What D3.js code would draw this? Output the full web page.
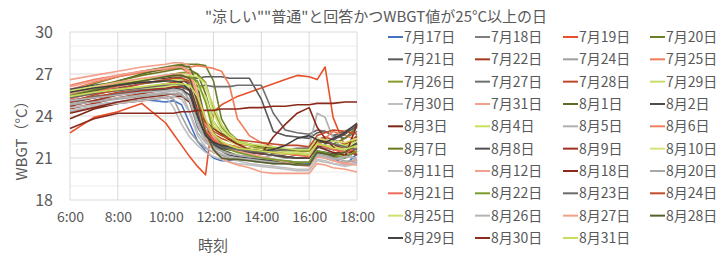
<!DOCTYPE html>
<html>
<head>
<meta charset="utf-8">
<script src="https://cdn.jsdelivr.net/npm/d3@7"></script>
<style>
  body { margin: 0; background: #fff; }
  text { font-family: "Noto Sans CJK JP", "Noto Sans", sans-serif; fill: #595959; }
</style>
</head>
<body>
<div id="container"></div>
<script>
// time of day for every reading
var times = ["6:00", "7:00", "8:00", "9:00", "10:00", "10:20", "10:40", "11:00", "11:20", "11:40",
  "12:00", "12:20", "12:40", "13:00", "13:30", "14:00", "14:30", "15:00", "15:30", "16:00",
  "16:20", "16:40", "17:00", "17:30", "18:00"];

var dates = ["7月17日", "7月18日", "7月19日", "7月20日", "7月21日", "7月22日", "7月24日", "7月25日",
  "7月26日", "7月27日", "7月28日", "7月29日", "7月30日", "7月31日", "8月1日", "8月2日",
  "8月3日", "8月4日", "8月5日", "8月6日", "8月7日", "8月8日", "8月9日", "8月10日",
  "8月11日", "8月12日", "8月18日", "8月20日", "8月21日", "8月22日", "8月23日", "8月24日",
  "8月25日", "8月26日", "8月27日", "8月28日", "8月29日", "8月30日", "8月31日"];

// WBGT readings, one row per day (same order as dates)
var wbgt = [
  [24.6, 24.8, 25.0, 25.2, 25.0, 25.1, 24.8, 23.5, 22.2, 21.5, 21.0, 20.8, 20.8, 20.9, 20.9, 20.8, 20.8, 20.7, 20.6, 20.6, 21.3, 21.2, 21.0, 20.5, 21.3],
  [25.0, 25.3, 25.6, 25.9, 26.1, 26.2, 26.2, 25.0, 23.2, 22.3, 21.9, 21.7, 21.6, 21.5, 21.4, 21.3, 21.2, 21.0, 21.0, 21.0, 21.8, 21.7, 21.6, 21.5, 21.9],
  [22.8, 23.9, 24.3, 24.9, 23.5, 22.7, 21.9, 21.1, 20.4, 19.8, 24.3, 24.8, 25.1, 25.4, 25.7, 26.0, 26.3, 26.6, 26.9, 26.8, 26.6, 27.5, 23.9, 21.8, 21.3],
  [25.8, 26.3, 26.8, 27.2, 27.5, 27.6, 27.7, 27.7, 27.7, 27.6, 26.5, 23.8, 22.8, 22.3, 21.9, 21.6, 21.3, 21.1, 21.0, 21.0, 21.9, 21.8, 21.6, 21.8, 22.6],
  [25.6, 25.8, 26.0, 26.3, 26.5, 26.7, 26.8, 26.8, 26.7, 26.8, 26.8, 26.8, 26.7, 26.7, 26.7, 25.2, 22.9, 22.6, 22.5, 22.4, 22.8, 22.9, 22.6, 22.9, 23.4],
  [24.5, 24.9, 25.3, 25.6, 25.9, 26.0, 26.1, 25.8, 24.5, 23.0, 22.4, 22.1, 21.9, 21.8, 21.7, 21.6, 21.5, 21.4, 21.3, 21.3, 22.0, 22.2, 22.0, 21.8, 22.3],
  [24.3, 24.6, 24.9, 25.2, 25.4, 25.2, 24.0, 22.9, 22.2, 21.7, 21.4, 21.2, 21.0, 20.9, 20.8, 20.7, 20.6, 20.6, 20.5, 20.5, 21.1, 21.0, 20.8, 20.7, 20.9],
  [25.9, 26.4, 26.8, 27.1, 27.3, 27.4, 27.5, 27.5, 27.6, 27.5, 27.4, 27.2, 26.2, 23.8, 22.6, 22.1, 21.8, 21.5, 21.4, 21.3, 22.0, 21.8, 21.7, 21.5, 21.8],
  [25.4, 25.8, 26.2, 26.6, 26.9, 27.0, 27.1, 27.1, 27.0, 26.4, 24.4, 23.2, 22.6, 22.2, 21.9, 21.7, 21.5, 21.4, 21.3, 21.2, 22.0, 21.9, 21.8, 21.9, 22.4],
  [25.1, 25.4, 25.6, 25.8, 26.0, 26.1, 26.1, 26.1, 26.1, 26.2, 26.1, 26.1, 26.1, 26.2, 26.2, 26.2, 24.2, 23.0, 22.8, 22.7, 23.0, 22.9, 22.6, 22.4, 22.9],
  [24.9, 25.3, 25.7, 26.0, 26.3, 26.4, 26.5, 26.4, 25.2, 23.3, 22.7, 22.4, 22.2, 22.0, 21.9, 21.8, 21.7, 21.6, 21.5, 21.5, 22.3, 22.5, 22.3, 22.0, 22.5],
  [25.5, 25.7, 25.9, 26.0, 26.1, 26.1, 26.2, 26.2, 26.1, 26.0, 24.8, 23.4, 22.7, 22.3, 22.0, 21.8, 21.7, 21.6, 21.5, 21.5, 22.3, 22.1, 22.0, 21.8, 22.0],
  [24.6, 24.8, 25.0, 25.2, 25.4, 24.6, 23.4, 22.5, 21.9, 21.4, 21.1, 20.9, 20.7, 20.6, 20.5, 20.4, 20.3, 20.2, 20.1, 20.1, 20.8, 20.7, 20.6, 20.5, 20.7],
  [26.6, 26.9, 27.2, 27.5, 27.7, 27.8, 27.8, 27.6, 26.0, 23.8, 22.6, 22.1, 21.8, 21.5, 21.3, 21.1, 20.9, 20.7, 20.6, 20.5, 21.2, 21.0, 20.8, 20.6, 20.9],
  [25.3, 25.9, 26.5, 27.0, 27.4, 27.5, 27.6, 27.5, 26.2, 23.5, 22.0, 21.6, 21.4, 21.2, 21.0, 20.9, 20.8, 20.7, 20.6, 20.5, 21.4, 21.3, 21.1, 21.0, 21.5],
  [25.9, 26.2, 26.4, 26.6, 26.7, 26.8, 26.7, 26.2, 24.5, 22.8, 22.0, 21.5, 21.2, 21.1, 21.0, 20.9, 20.8, 20.8, 20.7, 20.7, 21.5, 21.4, 21.3, 21.5, 22.1],
  [23.8, 24.5, 24.9, 25.1, 25.3, 25.4, 25.4, 25.0, 23.8, 22.6, 22.1, 21.8, 21.6, 21.5, 21.4, 21.3, 21.2, 21.1, 21.0, 21.0, 21.8, 21.6, 21.4, 21.2, 21.7],
  [25.7, 26.0, 26.2, 26.4, 26.5, 26.6, 26.6, 26.6, 26.3, 25.0, 23.3, 22.6, 22.3, 22.1, 21.9, 21.8, 21.7, 21.6, 21.5, 21.5, 22.3, 22.2, 22.0, 21.9, 22.2],
  [24.9, 25.1, 25.3, 25.5, 25.7, 25.8, 25.6, 24.3, 22.8, 22.1, 21.7, 21.5, 21.3, 21.2, 21.1, 21.0, 21.2, 21.4, 21.6, 21.8, 24.2, 23.9, 22.4, 21.5, 20.8],
  [26.2, 26.6, 26.9, 27.2, 27.4, 27.5, 27.4, 27.0, 25.2, 23.4, 22.5, 22.1, 21.9, 21.8, 21.6, 21.5, 21.4, 21.3, 21.2, 21.2, 22.0, 22.4, 22.9, 22.6, 22.3],
  [25.6, 26.1, 26.5, 26.9, 27.2, 27.3, 27.4, 27.3, 27.0, 25.6, 23.6, 22.8, 22.4, 22.2, 22.0, 21.8, 21.7, 21.6, 21.5, 21.5, 22.2, 22.1, 22.0, 22.4, 23.2],
  [25.0, 25.3, 25.5, 25.7, 25.9, 26.0, 25.9, 25.5, 24.0, 22.6, 22.0, 21.7, 21.6, 21.5, 21.4, 21.3, 21.2, 21.1, 21.0, 21.0, 21.7, 22.0, 22.3, 22.7, 23.3],
  [24.7, 25.1, 25.5, 25.8, 26.0, 26.1, 26.1, 25.9, 24.4, 22.9, 22.2, 21.9, 21.7, 21.6, 21.5, 21.5, 21.4, 21.3, 21.2, 21.2, 22.3, 22.2, 22.0, 21.6, 21.2],
  [25.3, 25.6, 25.8, 26.0, 26.1, 26.2, 26.2, 26.1, 26.0, 25.4, 23.6, 22.7, 22.2, 21.9, 21.7, 21.6, 21.5, 21.4, 21.4, 21.3, 22.0, 21.9, 21.8, 21.6, 21.8],
  [24.4, 24.7, 24.9, 25.1, 25.3, 25.4, 25.2, 24.2, 22.6, 21.8, 21.4, 21.1, 20.9, 20.8, 20.6, 20.5, 20.4, 20.3, 20.2, 20.2, 20.9, 20.8, 20.6, 20.4, 20.6],
  [26.1, 26.5, 26.9, 27.2, 27.4, 27.5, 27.5, 27.2, 25.6, 23.6, 22.5, 22.0, 21.7, 21.5, 21.3, 21.1, 20.9, 20.7, 20.5, 20.4, 21.1, 21.0, 20.8, 20.6, 20.5],
  [24.2, 24.6, 25.0, 25.3, 25.5, 25.6, 25.5, 25.0, 24.2, 23.6, 23.1, 22.7, 22.3, 22.0, 21.6, 21.3, 22.5, 23.4, 24.2, 24.6, 23.2, 22.4, 21.8, 21.1, 23.4],
  [24.8, 25.0, 25.2, 25.4, 25.6, 25.6, 25.5, 25.1, 23.7, 22.4, 21.8, 21.5, 21.3, 21.2, 21.1, 21.0, 20.9, 20.8, 20.7, 20.7, 21.3, 21.2, 21.0, 20.8, 20.7],
  [25.2, 25.7, 26.1, 26.5, 26.8, 26.9, 26.9, 26.7, 25.0, 23.0, 22.3, 22.0, 21.8, 21.7, 21.6, 21.5, 21.4, 21.3, 21.2, 21.1, 22.0, 21.8, 21.6, 21.4, 21.7],
  [25.5, 25.9, 26.3, 26.6, 26.8, 26.9, 26.9, 26.8, 26.5, 25.0, 22.8, 22.0, 21.6, 21.4, 21.2, 21.0, 20.9, 20.8, 20.7, 20.7, 21.5, 21.4, 21.2, 21.1, 21.5],
  [25.3, 25.6, 25.8, 26.0, 26.2, 26.3, 26.2, 25.8, 24.2, 22.7, 22.1, 21.8, 21.7, 21.6, 21.5, 21.4, 21.5, 21.6, 21.7, 21.7, 22.4, 22.3, 22.0, 21.8, 21.6],
  [25.0, 25.5, 25.9, 26.3, 26.6, 26.7, 26.7, 26.5, 25.2, 23.6, 22.9, 22.6, 22.4, 22.3, 22.2, 22.1, 22.0, 21.9, 21.9, 21.8, 22.6, 22.8, 23.0, 22.9, 22.7],
  [25.8, 26.1, 26.4, 26.6, 26.8, 26.9, 26.9, 26.9, 26.8, 26.3, 24.2, 23.0, 22.5, 22.2, 22.0, 21.9, 21.8, 21.7, 21.6, 21.6, 22.4, 22.3, 22.2, 22.1, 22.4],
  [25.1, 25.3, 25.5, 25.7, 25.8, 25.9, 25.8, 25.2, 23.4, 22.2, 21.6, 21.3, 21.1, 21.0, 20.9, 20.8, 20.7, 20.6, 20.5, 20.5, 21.2, 21.1, 20.9, 21.1, 21.0],
  [25.6, 26.0, 26.4, 26.7, 26.9, 27.0, 27.0, 26.6, 24.8, 22.6, 21.5, 21.0, 20.7, 20.5, 20.3, 20.0, 19.9, 19.9, 19.9, 19.9, 20.6, 20.5, 20.3, 20.2, 20.0],
  [25.4, 25.8, 26.2, 26.5, 26.8, 26.9, 26.9, 26.7, 25.0, 22.8, 21.6, 21.0, 20.9, 20.9, 20.8, 20.7, 20.6, 20.6, 20.5, 20.5, 21.4, 21.3, 21.2, 21.4, 22.0],
  [25.7, 26.0, 26.2, 26.4, 26.5, 26.5, 26.4, 25.8, 24.0, 22.6, 22.1, 21.9, 21.8, 21.7, 21.6, 21.5, 21.6, 21.9, 22.4, 22.6, 22.3, 22.1, 22.4, 22.8, 23.5],
  [23.1, 23.8, 24.2, 24.2, 24.2, 24.2, 24.3, 24.3, 24.4, 24.4, 24.4, 24.5, 24.5, 24.5, 24.6, 24.6, 24.7, 24.7, 24.8, 24.8, 24.9, 24.9, 24.9, 25.0, 25.0],
  [25.4, 25.7, 25.9, 26.1, 26.3, 26.3, 26.3, 26.2, 25.4, 23.8, 22.7, 22.2, 21.9, 21.7, 21.6, 21.5, 21.4, 21.3, 21.3, 21.2, 22.0, 21.9, 21.7, 21.6, 21.9]
];

var xTicks = ["6:00", "8:00", "10:00", "12:00", "14:00", "16:00", "18:00"];
var yTicks = [18, 21, 24, 27, 30];

// line colours, same order as dates
var colors = ["#4472c4", "#7f7f7f", "#e8502a", "#6b7f26", "#595959", "#a5381f", "#9e9e9e", "#f07d5a",
  "#8a9a2a", "#6e6e6e", "#c0462a", "#c9db6a", "#bfbfbf", "#f4a08a", "#5a6b2a", "#4d4d4d",
  "#7a2818", "#c6e05a", "#b0b0b0", "#f08060", "#6a7a20", "#505050", "#a03020", "#d4e47a",
  "#c0c0c0", "#f4a090", "#8b2a1a", "#a8a8a8", "#f06a5a", "#7a9a2a", "#6a6a6a", "#c04a2a",
  "#d0e070", "#b4b4b4", "#f4a088", "#55602a", "#404040", "#8b2a1a", "#c8dc5a"];

function toHours(s) {
  var p = s.split(":");
  return +p[0] + +p[1] / 60;
}

var W = 724, H = 260;
var svg = d3.select("#container").append("svg")
  .attr("width", W)
  .attr("height", H);

var x = d3.scaleLinear().domain([6, 18]).range([70, 357]);
var y = d3.scaleLinear().domain([18, 30]).range([200, 32]);

// horizontal grid every 1 degree
svg.append("g")
  .selectAll("line")
  .data(d3.range(18, 31))
  .enter().append("line")
  .attr("x1", x(6)).attr("x2", x(18))
  .attr("y1", function (d) { return y(d); })
  .attr("y2", function (d) { return y(d); })
  .attr("stroke", function (d) { return d % 3 == 0 ? "#d9d9d9" : "#ececec"; })
  .attr("stroke-width", 1);

// vertical grid
svg.append("g")
  .selectAll("line")
  .data(xTicks)
  .enter().append("line")
  .attr("x1", function (d) { return x(toHours(d)); })
  .attr("x2", function (d) { return x(toHours(d)); })
  .attr("y1", y(30)).attr("y2", y(18))
  .attr("stroke", "#d9d9d9");

// y axis labels
var yAxis = svg.append("g")
  .attr("transform", "translate(" + x(6) + ",0)")
  .call(d3.axisLeft(y).tickValues(yTicks).tickSize(0).tickPadding(17));
yAxis.select(".domain").remove();
yAxis.selectAll("text")
  .style("font-size", "16px")
  .style("font-family", "'Noto Sans CJK JP', sans-serif")
  .attr("fill", "#595959");

// x axis labels
var xAxis = svg.append("g")
  .attr("transform", "translate(0," + y(18) + ")")
  .call(d3.axisBottom(x).tickValues(xTicks.map(toHours)).tickSize(0).tickPadding(12)
    .tickFormat(function (d, i) { return xTicks[i]; }));
xAxis.select(".domain").remove();
xAxis.selectAll("text")
  .style("font-size", "14px")
  .style("font-family", "'Noto Sans CJK JP', sans-serif")
  .attr("fill", "#595959");

// the lines
var line = d3.line()
  .x(function (d, i) { return x(toHours(times[i])); })
  .y(function (d) { return y(d); });

svg.append("g")
  .selectAll("path")
  .data(wbgt)
  .enter().append("path")
  .attr("fill", "none")
  .attr("stroke", function (d, i) { return colors[i]; })
  .attr("stroke-width", 1.6)
  .attr("stroke-linejoin", "round")
  .attr("d", line);

// title
svg.append("text")
  .attr("x", 376).attr("y", 22)
  .attr("text-anchor", "middle")
  .style("font-size", "15px")
  .text("\"涼しい\"\"普通\"と回答かつWBGT値が25°C以上の日");

// axis titles
svg.append("text")
  .attr("x", 213).attr("y", 251)
  .attr("text-anchor", "middle")
  .style("font-size", "15px")
  .text("時刻");

svg.append("text")
  .attr("transform", "translate(27,137) rotate(-90)")
  .attr("text-anchor", "middle")
  .style("font-size", "15px")
  .text("WBGT（°C）");

// legend, 4 columns
var legend = svg.append("g")
  .selectAll("g")
  .data(dates)
  .enter().append("g")
  .attr("transform", function (d, i) {
    var cx = [388, 475, 563, 650][i % 4];
    var cy = 37 + Math.floor(i / 4) * 22.33;
    return "translate(" + cx + "," + cy + ")";
  });

legend.append("line")
  .attr("x1", 0).attr("x2", 15)
  .attr("stroke", function (d, i) { return colors[i]; })
  .attr("stroke-width", 2);

legend.append("text")
  .attr("x", 16).attr("y", 5)
  .style("font-size", "14px")
  .text(function (d) { return d; });
</script>
</body>
</html>
